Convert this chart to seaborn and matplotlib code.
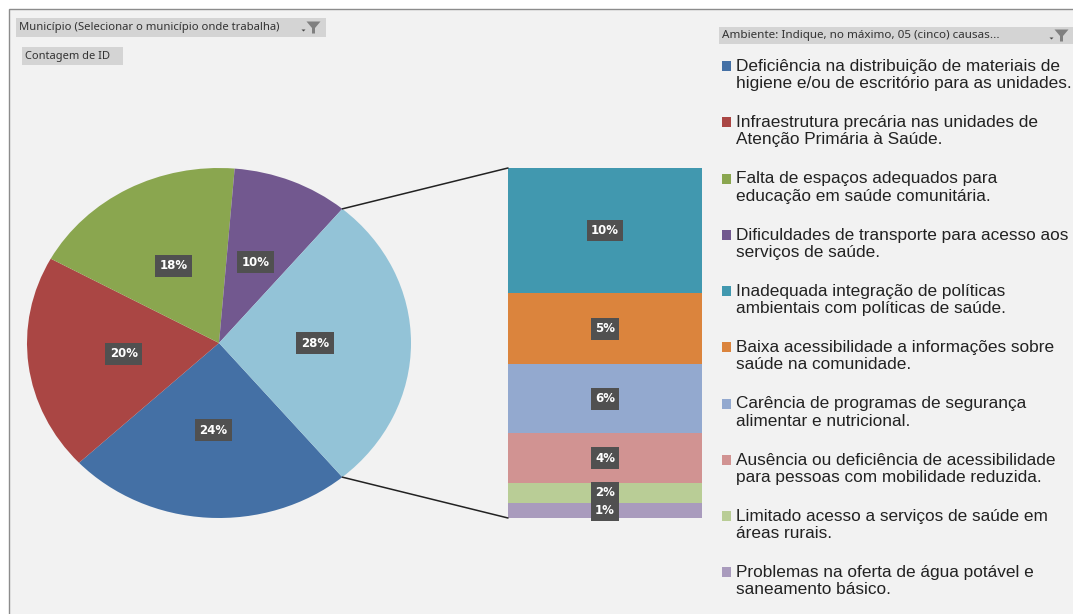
import numpy as np
import matplotlib
matplotlib.use("Agg")
import matplotlib.pyplot as plt
from matplotlib.legend_handler import HandlerPatch
from matplotlib.patches import Rectangle, Polygon, ConnectionPatch, Patch
import seaborn as sns

# pie slices as measured, printed labels are rounded, last slice opens into the stack
pie_values = [24.1, 20.0, 18.3, 9.8, 27.8]
pie_labels = ["24%", "20%", "18%", "10%", "28%"]
pie_colors = ["#4470A5", "#AA4644", "#8AA64F", "#72588F", "#93C3D7"]

# stack from bottom to top, heights
stack_values = [1.2, 1.6, 4.0, 5.5, 5.7, 10.0]
stack_labels = ["1%", "2%", "4%", "6%", "5%", "10%"]
stack_colors = ["#A99BBD", "#B9CD96", "#D19392", "#93A9CF", "#DB843D", "#4198AF"]

legend_labels = [
    "Deficiência na distribuição de materiais de\nhigiene e/ou de escritório para as unidades.",
    "Infraestrutura precária nas unidades de\nAtenção Primária à Saúde.",
    "Falta de espaços adequados para\neducação em saúde comunitária.",
    "Dificuldades de transporte para acesso aos\nserviços de saúde.",
    "Inadequada integração de políticas\nambientais com políticas de saúde.",
    "Baixa acessibilidade a informações sobre\nsaúde na comunidade.",
    "Carência de programas de segurança\nalimentar e nutricional.",
    "Ausência ou deficiência de acessibilidade\npara pessoas com mobilidade reduzida.",
    "Limitado acesso a serviços de saúde em\náreas rurais.",
    "Problemas na oferta de água potável e\nsaneamento básico.",
]
legend_colors = ["#4470A5", "#AA4644", "#8AA64F", "#72588F", "#4198AF",
                 "#DB843D", "#93A9CF", "#D19392", "#B9CD96", "#A99BBD"]

W, H = 1073, 614
BG = "#F2F2F2"

sns.set_theme(style="white")
plt.rcParams["font.family"] = ["Liberation Sans", "DejaVu Sans"]


def px_axes(fig, left, top, right, bottom):
    return fig.add_axes([left / W, 1 - bottom / H, (right - left) / W, (bottom - top) / H])


def label_box(ax, x, y, text):
    ax.text(x, y, text, color="white", fontsize=8.5, fontweight="bold",
            family="DejaVu Sans", ha="center", va="center", zorder=5,
            bbox=dict(boxstyle="square,pad=0.38", fc="#505050", ec="none"))


def filter_button(ax, left, top, right, bottom, text, funnel=True, size=8, fx=None):
    ax.add_patch(Rectangle((left, top), right - left, bottom - top, fc="#D4D4D4", ec="none"))
    ax.text(left + 3, (top + bottom) / 2, text, fontsize=size, color="#333333",
            family="Noto Sans", ha="left", va="center")
    if funnel:
        cy = (top + bottom) / 2
        ax.add_patch(Polygon([(fx - 7, cy - 6), (fx + 7, cy - 6), (fx + 1.5, cy + 0.5),
                              (fx + 1.5, cy + 6), (fx - 1.5, cy + 6), (fx - 1.5, cy + 0.5)],
                             fc="#808080", ec="none"))
        ax.add_patch(Polygon([(fx - 12, cy + 2), (fx - 8, cy + 2), (fx - 10, cy + 4)],
                             fc="#444444", ec="none"))


def top_line_square(legend, orig_handle, xdescent, ydescent, width, height, fontsize):
    # marker sits on the first text line, not in the middle of the two lines
    return Rectangle((-xdescent, -ydescent + 6.3), width, height)


fig = plt.figure(figsize=(W / 100, H / 100), dpi=100, facecolor="white")

# window chrome and pivot field buttons
chrome = fig.add_axes([0, 0, 1, 1], zorder=0)
chrome.set_xlim(0, W)
chrome.set_ylim(H, 0)
chrome.axis("off")
chrome.add_patch(Rectangle((8.5, 8.5), W, H, fc=BG, ec="#8C8C8C", lw=1))
filter_button(chrome, 16, 18, 326, 37, "Município (Selecionar o município onde trabalha)", size=8.1, fx=313.5)
filter_button(chrome, 22, 47, 123, 65, "Contagem de ID", funnel=False)
filter_button(chrome, 719, 27, 1073, 44, "Ambiente: Indique, no máximo, 05 (cinco) causas...", size=8.4, fx=1061.5)

# pie is stretched on purpose, the reference is an ellipse
ax_pie = px_axes(fig, 27, 168, 411, 518)
start = -pie_values[-1] / 100 * 180
wedges, _ = ax_pie.pie(pie_values, colors=pie_colors, startangle=start, counterclock=False,
                       radius=1, wedgeprops=dict(lw=0))
ax_pie.set_aspect("auto")
ax_pie.set_xlim(-1, 1)
ax_pie.set_ylim(-1, 1)
for w, lab in zip(wedges, pie_labels):
    ang = np.deg2rad((w.theta1 + w.theta2) / 2)
    label_box(ax_pie, 0.5 * np.cos(ang), 0.5 * np.sin(ang), lab)

# stacked bar for the last slice
ax_bar = px_axes(fig, 508, 168, 702, 518)
ax_bar.patch.set_alpha(0)
bottom = 0
for val, lab, col in zip(stack_values, stack_labels, stack_colors):
    sns.barplot(x=[0], y=[val], bottom=bottom, color=col, width=1, saturation=1,
                linewidth=0, ax=ax_bar)
    label_box(ax_bar, 0, bottom + val / 2, lab)
    bottom += val
ax_bar.set_xlim(-0.5, 0.5)
ax_bar.set_ylim(0, sum(stack_values))
ax_bar.axis("off")

# lines from the slice edge to the bar corners
a = np.deg2rad(start)
for sign, ytop in [(1, 1), (-1, 0)]:
    fig.add_artist(ConnectionPatch(
        xyA=(np.cos(a), sign * -np.sin(a)), coordsA=ax_pie.transData,
        xyB=(0, ytop), coordsB=ax_bar.transAxes, color="#222222", lw=1.1))

handles = [Patch(fc=c, ec="none") for c in legend_colors]
leg = fig.legend(handles, legend_labels, loc="upper left", bbox_to_anchor=(722 / W, 1 - 59 / H),
                 frameon=False, fontsize=12.45, labelcolor="#222222", borderpad=0, borderaxespad=0,
                 handlelength=0.52, handleheight=0.52, handletextpad=0.29, labelspacing=1.4,
                 handler_map={Patch: HandlerPatch(patch_func=top_line_square)})
for t in leg.get_texts():
    t.set_linespacing(1.17)

fig.savefig("out.png", dpi=100, facecolor="white")
